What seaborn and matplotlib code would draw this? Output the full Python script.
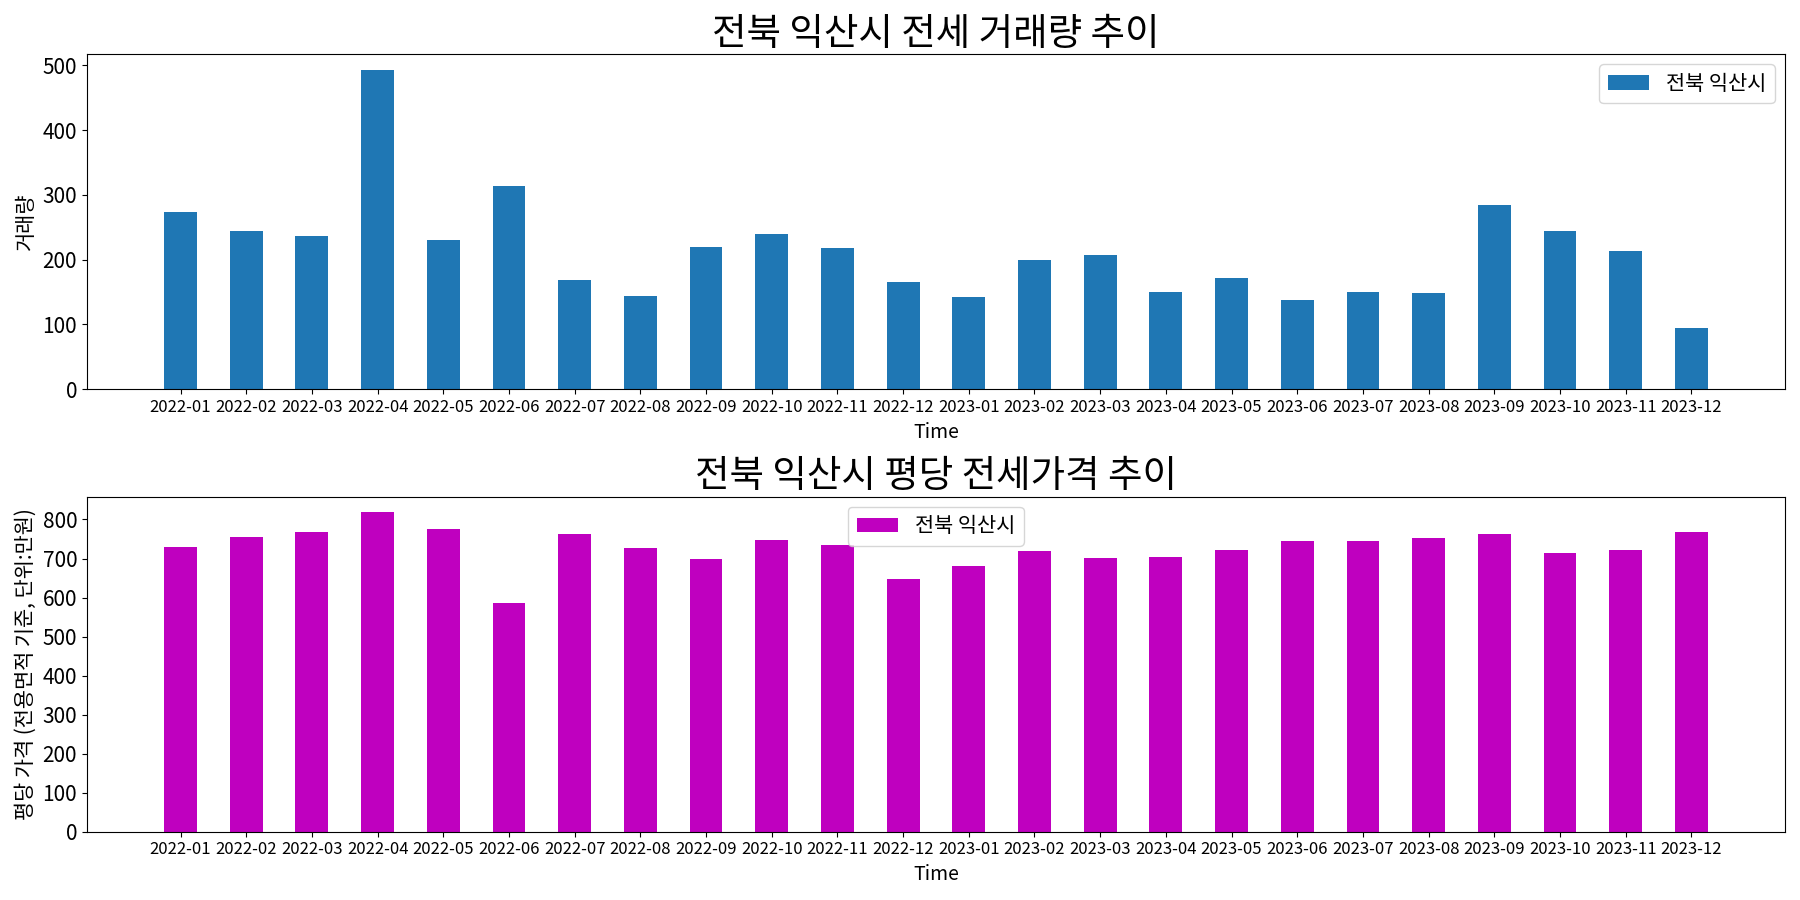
import pandas as pd
import matplotlib.pyplot as plt
from matplotlib.ticker import MultipleLocator
import seaborn as sns

plt.rcParams['font.family'] = ['Noto Sans CJK KR', 'DejaVu Sans']
plt.rcParams['axes.unicode_minus'] = False

months = ['2022-01', '2022-02', '2022-03', '2022-04', '2022-05', '2022-06',
          '2022-07', '2022-08', '2022-09', '2022-10', '2022-11', '2022-12',
          '2023-01', '2023-02', '2023-03', '2023-04', '2023-05', '2023-06',
          '2023-07', '2023-08', '2023-09', '2023-10', '2023-11', '2023-12']

volume = [273, 245, 236, 493, 230, 314, 169, 144, 219, 239, 218, 166,
          143, 199, 207, 150, 172, 138, 150, 149, 285, 245, 213, 94]

price = [729, 754, 769, 818, 775, 585, 764, 726, 698, 747, 734, 647,
         680, 719, 701, 703, 721, 744, 744, 752, 762, 714, 721, 769]

region = '전북 익산시'


def plot_bars(ax, values, color, title, ylabel, legend_loc):
    """Draw one monthly bar panel."""
    df = pd.DataFrame({'Time': months, 'value': values})
    sns.barplot(data=df, x='Time', y='value', color=color, width=0.5,
                saturation=1, label=region, ax=ax)
    ax.margins(x=0.05)
    ax.autoscale(enable=True, axis='x')
    ax.yaxis.set_major_locator(MultipleLocator(100))
    ax.set_title(title, fontsize=27)
    ax.set_xlabel('Time', fontsize=14)
    ax.set_ylabel(ylabel, fontsize=15)
    ax.tick_params(axis='x', labelsize=12)
    ax.tick_params(axis='y', labelsize=15)
    ax.legend(loc=legend_loc, fontsize=15)


fig, axes = plt.subplots(2, 1, figsize=(18, 9))
plot_bars(axes[0], volume, '#1f77b4', '전북 익산시 전세 거래량 추이', '거래량', 'upper right')
plot_bars(axes[1], price, '#bf00bf', '전북 익산시 평당 전세가격 추이',
          '평당 가격 (전용면적 기준, 단위:만원)', 'upper center')

plt.tight_layout()
plt.savefig('out.png', dpi=100)
